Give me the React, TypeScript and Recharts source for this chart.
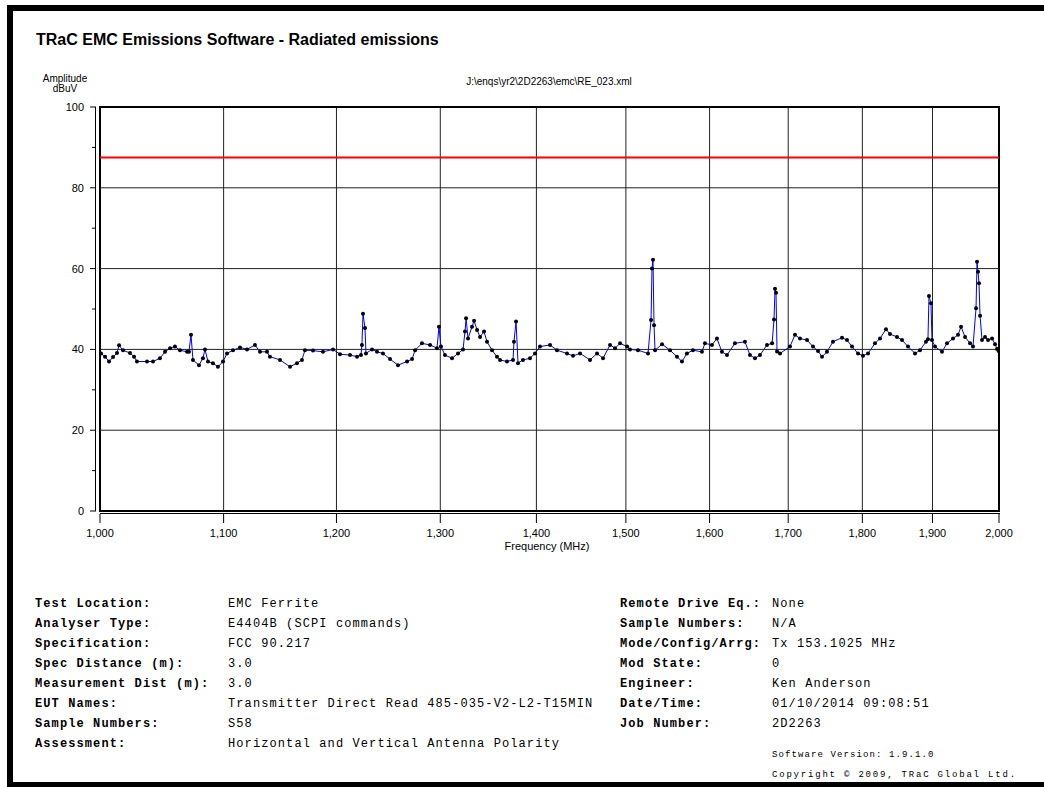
import {
  LineChart,
  Line,
  XAxis,
  YAxis,
  CartesianGrid,
  ReferenceLine,
  ReferenceArea,
} from "recharts";

// frequency (MHz) of each sample
const freqMHz = [
  1000.8, 1003.9, 1007.0, 1010.1, 1013.2, 1014.8, 1017.9, 1023.4, 1026.6, 1028.9,
  1036.9, 1041.7, 1047.3, 1051.4, 1055.5, 1059.5, 1063.6, 1069.4, 1071.0, 1072.7,
  1074.3, 1079.3, 1082.6, 1084.3, 1086.8, 1091.0, 1095.2, 1099.5, 1102.9, 1108.0,
  1114.0, 1120.0, 1126.9, 1131.3, 1137.4, 1140.0, 1148.9, 1157.8, 1164.0, 1168.5,
  1171.2, 1178.5, 1187.6, 1196.8, 1203.3, 1212.6, 1219.2, 1222.9, 1223.8, 1224.8,
  1226.7, 1227.6, 1233.3, 1238.1, 1243.8, 1250.6, 1258.3, 1267.1, 1272.0, 1275.0,
  1281.8, 1289.8, 1296.7, 1298.7, 1300.7, 1304.7, 1311.8, 1317.9, 1323.0, 1325.0,
  1326.1, 1328.1, 1332.2, 1334.3, 1337.4, 1340.5, 1344.6, 1347.7, 1352.9, 1358.1,
  1361.3, 1368.6, 1375.0, 1376.0, 1378.2, 1380.3, 1385.6, 1393.1, 1398.5, 1403.9,
  1414.8, 1422.4, 1433.4, 1440.1, 1447.9, 1459.1, 1467.0, 1473.8, 1481.8, 1487.5,
  1493.3, 1501.4, 1504.8, 1514.1, 1525.8, 1529.4, 1530.5, 1531.7, 1532.9, 1534.1,
  1542.4, 1551.9, 1560.3, 1566.3, 1572.3, 1579.6, 1590.6, 1594.3, 1602.9, 1609.1,
  1615.3, 1621.6, 1631.6, 1644.2, 1650.6, 1657.0, 1663.4, 1672.4, 1679.0, 1681.5,
  1682.8, 1684.1, 1685.4, 1689.3, 1702.3, 1708.9, 1715.5, 1724.8, 1732.8, 1739.5,
  1744.9, 1751.6, 1759.7, 1772.0, 1778.8, 1785.7, 1794.0, 1800.9, 1807.9, 1817.6,
  1824.7, 1833.1, 1838.8, 1848.7, 1855.9, 1864.5, 1874.6, 1881.8, 1890.5, 1893.4,
  1894.9, 1897.8, 1899.3, 1903.7, 1914.0, 1921.4, 1930.3, 1937.8, 1942.3, 1948.3,
  1955.8, 1960.3, 1964.9, 1966.4, 1967.9, 1969.4, 1971.0, 1974.0, 1978.6, 1983.2,
  1989.3, 1993.9, 1997.0, 1999.5,
];

// amplitude (dBuV) at each of those frequencies
const ampDbuv = [
  39.0, 38.2, 37.0, 38.1, 39.1, 41.0, 39.8, 39.1, 38.2, 37.0,
  37.0, 37.0, 37.8, 39.4, 40.3, 40.7, 39.8, 39.4, 39.4, 43.6,
  37.4, 36.1, 37.8, 40.0, 37.0, 36.6, 35.7, 37.0, 39.0, 39.8,
  40.5, 40.0, 41.1, 39.4, 39.4, 38.2, 37.4, 35.7, 36.6, 37.4,
  39.8, 39.7, 39.4, 40.0, 38.8, 38.6, 38.2, 38.6, 41.1, 48.8,
  45.3, 39.0, 40.0, 39.4, 39.0, 37.6, 36.1, 37.0, 37.6, 39.8,
  41.5, 41.1, 40.3, 45.6, 40.7, 38.6, 37.8, 39.0, 40.0, 44.4,
  47.7, 42.7, 45.6, 47.1, 44.8, 43.1, 44.4, 41.9, 39.8, 38.2,
  37.4, 37.0, 37.4, 41.9, 46.9, 36.6, 37.4, 37.8, 39.0, 40.7,
  41.1, 39.8, 39.0, 38.4, 39.0, 37.4, 39.0, 37.8, 41.1, 40.3,
  41.5, 40.7, 40.0, 39.8, 39.0, 47.3, 60.0, 62.2, 46.0, 39.8,
  41.3, 39.8, 38.2, 37.0, 39.0, 39.8, 39.4, 41.5, 41.1, 42.7,
  39.4, 38.6, 41.5, 41.9, 38.6, 37.8, 38.6, 41.1, 41.5, 47.4,
  55.0, 54.0, 39.5, 39.0, 40.7, 43.6, 42.7, 42.3, 40.7, 39.6,
  38.2, 39.4, 41.9, 42.9, 42.3, 40.7, 39.0, 38.4, 39.0, 41.5,
  42.7, 45.0, 43.8, 43.1, 42.3, 40.7, 39.0, 39.8, 41.9, 42.5,
  53.2, 51.4, 42.3, 40.7, 39.4, 41.5, 42.7, 43.6, 45.6, 43.1,
  41.5, 40.7, 50.2, 61.7, 59.2, 56.4, 48.3, 42.3, 43.1, 42.3,
  42.7, 41.3, 40.1, 39.6,
];

// limit line (FCC 90.217), dBuV
const limitDbuv = 87.5;

const freqTicks = [1000, 1100, 1200, 1300, 1400, 1500, 1600, 1700, 1800, 1900, 2000];
const ampTicks = [0, 10, 20, 30, 40, 50, 60, 70, 80, 90, 100];
const gridAmps = [20, 40, 60, 80];

const leftLabels = [
  "Test Location:",
  "Analyser Type:",
  "Specification:",
  "Spec Distance (m):",
  "Measurement Dist (m):",
  "EUT Names:",
  "Sample Numbers:",
  "Assessment:",
];
const leftValues = [
  "EMC Ferrite",
  "E4404B (SCPI commands)",
  "FCC 90.217",
  "3.0",
  "3.0",
  "Transmitter Direct Read 485-035-V2-L2-T15MIN",
  "S58",
  "Horizontal and Vertical Antenna Polarity",
];
const rightLabels = [
  "Remote Drive Eq.:",
  "Sample Numbers:",
  "Mode/Config/Arrg:",
  "Mod State:",
  "Engineer:",
  "Date/Time:",
  "Job Number:",
];
const rightValues = [
  "None",
  "N/A",
  "Tx 153.1025 MHz",
  "0",
  "Ken Anderson",
  "01/10/2014 09:08:51",
  "2D2263",
];

const data = freqMHz.map((f, i) => ({ f, v: ampDbuv[i] }));

const sans = "'Liberation Sans', Arial, sans-serif";
const mono = "'Liberation Mono', 'Courier New', monospace";

const YTick = ({ x, y, payload }: any) => {
  const major = payload.value % 20 === 0;
  return (
    <g>
      <line x1={x - (major ? 10 : 8)} x2={x - 4} y1={y} y2={y} stroke="#000" />
      {major && (
        <text x={x - 16} y={y} dy={4} textAnchor="end" fontFamily={sans} fontSize={11} fill="#000">
          {payload.value}
        </text>
      )}
    </g>
  );
};

const XTick = ({ x, y, payload }: any) => (
  <g>
    <line x1={x} x2={x} y1={y + 3} y2={y + 12} stroke="#000" />
    <text x={x} y={y + 26} textAnchor="middle" fontFamily={sans} fontSize={11} fill="#000">
      {payload.value.toLocaleString("en-US")}
    </text>
  </g>
);

export default function App() {
  return (
    <div style={{ position: "relative", width: 1044, height: 787, background: "#fff", overflow: "hidden" }}>
      <style>{`body{margin:0}`}</style>
      <div
        style={{
          position: "absolute",
          left: 7,
          top: 5,
          width: 1060,
          height: 782,
          boxSizing: "border-box",
          borderLeft: "6px solid #000",
          borderTop: "6px solid #000",
          borderBottom: "5px solid #000",
        }}
      />
      <div style={{ position: "absolute", left: 0, top: 0 }}>
        <LineChart width={1044} height={560} data={data} margin={{ top: 107, right: 45, bottom: 9, left: 60 }}>
          <CartesianGrid vertical horizontal={false} stroke="#222" />
          {gridAmps.map((a) => (
            <ReferenceLine key={"g" + a} y={a} stroke="#222" />
          ))}
          <ReferenceLine
            key="limit"
            y={limitDbuv}
            stroke="#ff0000"
            strokeWidth={2}
            style={{ stroke: "#ff0000" }}
          />
          <XAxis
            dataKey="f"
            type="number"
            scale="log"
            domain={[1000, 2000]}
            ticks={freqTicks}
            interval={0}
            allowDataOverflow
            axisLine={false}
            tickLine={false}
            tickSize={0}
            tickMargin={0}
            height={40}
            tick={XTick}
          />
          <YAxis
            type="number"
            domain={[0, 100]}
            ticks={ampTicks}
            interval={0}
            axisLine={false}
            tickLine={false}
            tickSize={0}
            tickMargin={0}
            width={40}
            tick={YTick}
          />
          <ReferenceArea x1={1000} x2={2000} y1={0} y2={100} fill="none" stroke="#000" strokeWidth={2} ifOverflow="visible" />
          <Line
            type="linear"
            dataKey="v"
            stroke="#0000ff"
            strokeWidth={1}
            dot={{ r: 2, fill: "#000", stroke: "none" }}
            isAnimationActive={false}
          />
        </LineChart>
      </div>
      <svg width={1044} height={787} style={{ position: "absolute", left: 0, top: 0, pointerEvents: "none" }}>
        <text x={36} y={45} fontFamily={sans} fontSize={16} fontWeight="bold" fill="#000">
          TRaC EMC Emissions Software - Radiated emissions
        </text>
        <text x={65} y={82} textAnchor="middle" fontFamily={sans} fontSize={10} fill="#000">
          Amplitude
        </text>
        <text x={65} y={92} textAnchor="middle" fontFamily={sans} fontSize={10} fill="#000">
          dBuV
        </text>
        <text x={549} y={85} textAnchor="middle" fontFamily={sans} fontSize={10} fill="#000">
          J:\enqs\yr2\2D2263\emc\RE_023.xml
        </text>
        <text x={547} y={550} textAnchor="middle" fontFamily={sans} fontSize={11} fill="#000">
          Frequency (MHz)
        </text>
        <line x1={95.5} x2={95.5} y1={107} y2={511} stroke="#000" />
        <line x1={100} x2={1000} y1={513.5} y2={513.5} stroke="#000" />
        {leftLabels.map((l, i) => (
          <text key={l} x={35} y={607 + i * 20} fontFamily={mono} fontSize={12} fontWeight="bold" letterSpacing={1.1} fill="#000">
            {l}
          </text>
        ))}
        {leftValues.map((v, i) => (
          <text key={i} x={228} y={607 + i * 20} fontFamily={mono} fontSize={12} letterSpacing={1.1} fill="#000">
            {v}
          </text>
        ))}
        {rightLabels.map((l, i) => (
          <text key={l} x={620} y={607 + i * 20} fontFamily={mono} fontSize={12} fontWeight="bold" letterSpacing={1.1} fill="#000">
            {l}
          </text>
        ))}
        {rightValues.map((v, i) => (
          <text key={i} x={772} y={607 + i * 20} fontFamily={mono} fontSize={12} letterSpacing={1.1} fill="#000">
            {v}
          </text>
        ))}
        <text x={772} y={757} fontFamily={mono} fontSize={9} letterSpacing={1.1} fill="#000">
          Software Version: 1.9.1.0
        </text>
        <text x={772} y={777} fontFamily={mono} fontSize={9} letterSpacing={1.8} fill="#000">
          Copyright © 2009, TRaC Global Ltd.
        </text>
      </svg>
    </div>
  );
}
